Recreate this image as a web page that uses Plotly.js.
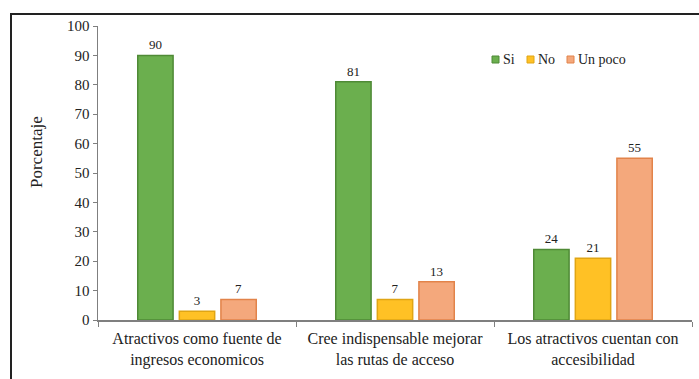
<!DOCTYPE html>
<html><head><meta charset="utf-8">
<script src="https://cdn.plot.ly/plotly-3.0.1.min.js"></script>
<style>
html,body{margin:0;padding:0;background:#fff;}
#wrap{position:relative;width:699px;height:379px;overflow:hidden;}
#frame{position:absolute;left:10px;top:13px;width:700px;height:400px;border-top:2px solid #222;border-left:2px solid #222;pointer-events:none;}
#chart{position:absolute;left:0;top:0;width:699px;height:379px;}
</style></head>
<body><div id="wrap"><div id="chart"></div><div id="frame"></div></div>
<script>
const categories = ["Atractivos como fuente de<br>ingresos economicos", "Cree indispensable mejorar<br>las rutas de acceso", "Los atractivos cuentan con<br>accesibilidad"];
const seriesNames = ["Si", "No", "Un poco"];
const si = [90, 81, 24];
const no = [3, 7, 21];
const unPoco = [7, 13, 55];
const yTicks = [0,10,20,30,40,50,60,70,80,90,100];

const fills = ["#6BAF4E", "#FFC125", "#F4A87C"];
const borders = ["#4F8A36", "#E0A514", "#E2834A"];
const vals = [si, no, unPoco];
const font = "Liberation Serif, Times New Roman, serif";

const traces = vals.map((v,i)=>({
  type:'bar', name: seriesNames[i], x: categories, y: v,
  text: v.map(String), textposition:'outside', cliponaxis:false,
  textfont:{family:font, size:13, color:'#222'},
  marker:{color: fills[i], line:{color: borders[i], width:1.5}}
}));

// manual compact legend (paper coords)
const plotL = 98, plotW = 594, plotB = 320, plotH = 294;
const px = x => (x - plotL) / plotW;
const py = y => (plotB - y) / plotH;
const legX = [492, 527, 567];
const shapes = [], annotations = [];
seriesNames.forEach((n,i)=>{
  shapes.push({type:'rect', xref:'paper', yref:'paper', x0:px(legX[i]), x1:px(legX[i]+7), y0:py(63), y1:py(56),
    fillcolor:fills[i], line:{color:borders[i], width:1}});
  annotations.push({xref:'paper', yref:'paper', x:px(legX[i]+9), y:py(59.5), xanchor:'left', yanchor:'middle',
    text:n, showarrow:false, font:{family:font, size:14, color:'#222'}});
});
annotations.push({xref:'paper', yref:'paper', x:px(36), y:py(152), xanchor:'center', yanchor:'middle',
  text:'Porcentaje', textangle:-90, showarrow:false, font:{family:font, size:17, color:'#222'}});

const layout = {
  width:699, height:379,
  margin:{l:98, r:7, t:26, b:59},
  paper_bgcolor:'rgba(0,0,0,0)', plot_bgcolor:'#fff',
  barmode:'group', bargap:0.37, bargroupgap:0.15,
  font:{family:font, color:'#222'},
  showlegend:false,
  shapes, annotations,
  xaxis:{type:'category', showline:true, linecolor:'#7f7f7f', linewidth:1.5,
    ticks:'outside', tickson:'boundaries', ticklen:5, tickcolor:'#7f7f7f', ticklabelstandoff:3,
    tickfont:{family:font, size:16, color:'#222'}, showgrid:false, zeroline:false},
  yaxis:{range:[0,100], tickvals:yTicks, ticktext:yTicks.map(String), showline:true, linecolor:'#7f7f7f', linewidth:1.5,
    ticks:'outside', ticklen:4, tickcolor:'#7f7f7f', showgrid:false, zeroline:false,
    tickfont:{family:font, size:15, color:'#222'}}
};
Plotly.newPlot('chart', traces, layout, {displayModeBar:false, staticPlot:true});
</script></body></html>
